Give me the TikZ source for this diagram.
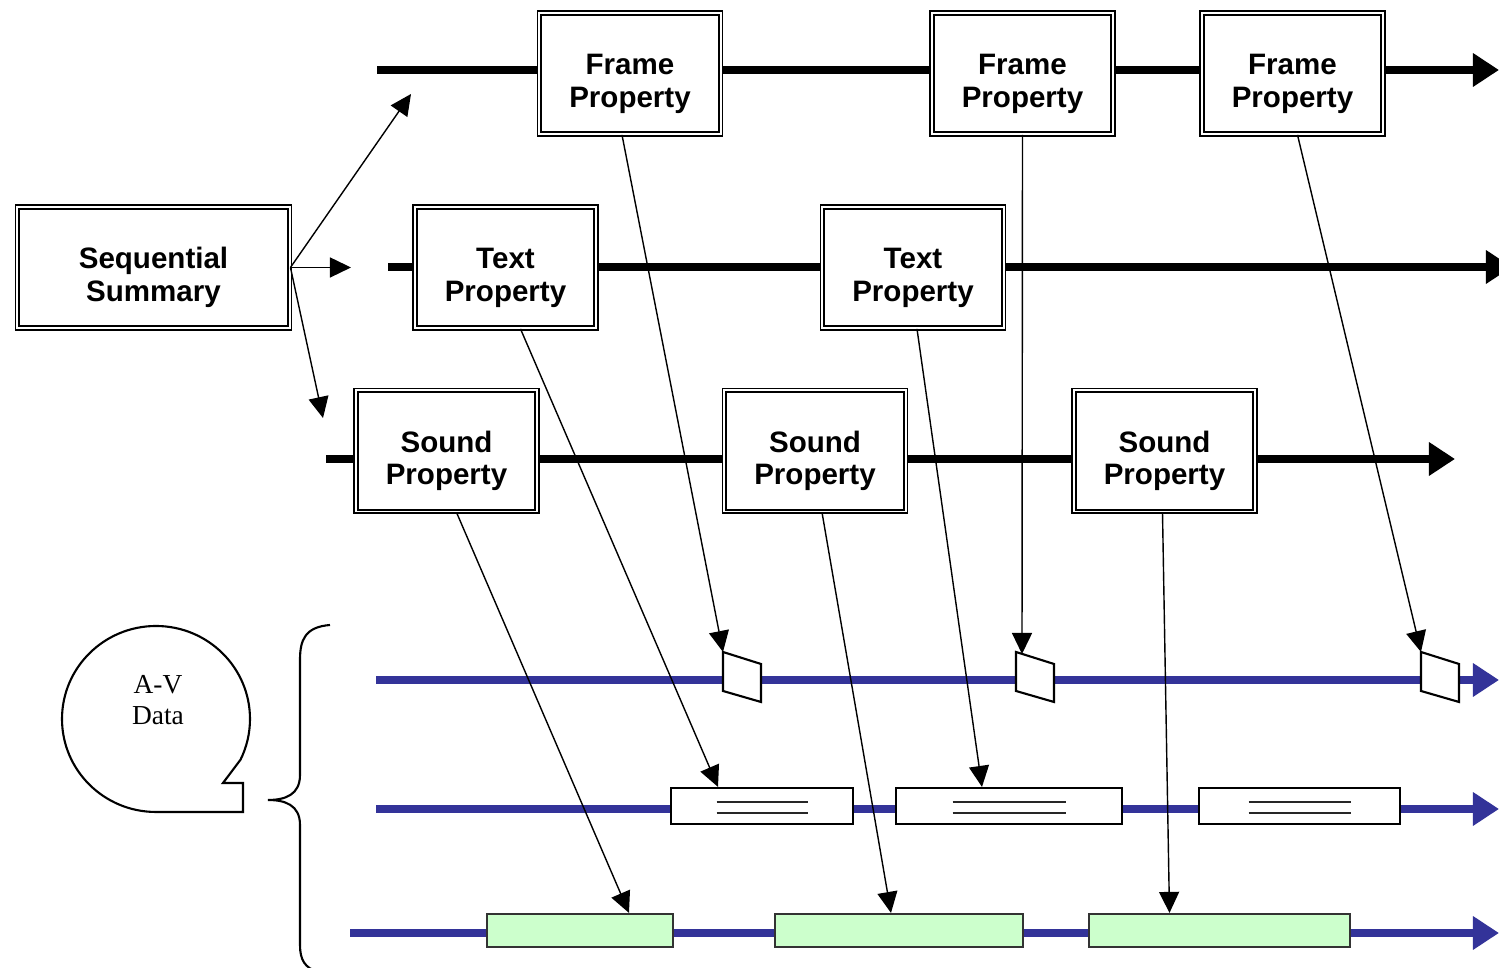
\documentclass[tikz,border=0pt]{standalone}
\usepackage{fontspec}
\setmainfont{Liberation Sans}
\newfontfamily\avfont{Liberation Serif}
\usetikzlibrary{arrows.meta,calc}
\definecolor{avblue}{HTML}{333399}
\definecolor{clipgreen}{HTML}{CCFFCC}
\tikzset{
  propbox/.style={draw, double, double distance=0.55pt, line width=0.5pt, fill=white,
    minimum width=1.81cm, minimum height=1.21cm, inner sep=0pt, align=center,
    font=\bfseries\fontsize{8.4}{9.2}\selectfont, text height=21pt},
  track/.style={line width=2.1pt, -{Triangle[length=0.26cm,width=0.32cm]}},
  avtrack/.style={avblue, line width=2pt, -{Triangle[length=0.26cm,width=0.32cm]}},
  link/.style={line width=0.4pt, -{Triangle[length=0.21cm,width=0.2cm]}},
  textclip/.style={draw, line width=0.6pt, fill=white, minimum height=0.36cm, inner sep=0pt},
  soundclip/.style={draw=black!80, line width=0.6pt, fill=clipgreen, minimum height=0.33cm, inner sep=0pt},
  frameclip/.style={draw, line width=0.6pt, fill=white, line join=miter}
}
\begin{document}
\begin{tikzpicture}[x=0.01cm, y=-0.01cm]
  \useasboundingbox (0,0) rectangle (1499,968);
  % property tracks
  \coordinate (frs) at (377,70);  \coordinate (fre) at (1499,70);
  \coordinate (trs) at (388,267); \coordinate (tre) at (1512,267);
  \coordinate (srs) at (326,459); \coordinate (sre) at (1455,459);
  \draw[track] (frs) -- (fre);
  \draw[track] (trs) -- (tre);
  \draw[track] (srs) -- (sre);
  % A-V data tracks
  \coordinate (fas) at (376,680); \coordinate (fae) at (1499,680);
  \coordinate (tas) at (376,809); \coordinate (tae) at (1499,809);
  \coordinate (sas) at (350,933); \coordinate (sae) at (1499,933);
  \draw[avtrack] (fas) -- (fae);
  \draw[avtrack] (tas) -- (tae);
  \draw[avtrack] (sas) -- (sae);

  % summary and properties
  \node[propbox, minimum width=2.72cm] (ss) at (153.5,267.5) {Sequential\\Summary};
  \node[propbox] (f1) at (630,73.5) {Frame\\Property};
  \node[propbox] (f2) at (1022.5,73.5) {Frame\\Property};
  \node[propbox] (f3) at (1292.5,73.5) {Frame\\Property};
  \node[propbox] (t1) at (505.5,267.5) {Text\\Property};
  \node[propbox] (t2) at (913,267.5) {Text\\Property};
  \node[propbox] (s1) at (446.5,451) {Sound\\Property};
  \node[propbox] (s2) at (815,451) {Sound\\Property};
  \node[propbox] (s3) at (1164.5,451) {Sound\\Property};

  % summary arrows
  \coordinate (sup1) at (411,94);
  \coordinate (smid) at (351,267.5);
  \coordinate (sdown) at (323,418);
  \draw[link] (ss.east) -- (sup1);
  \draw[link] (ss.east) -- (smid);
  \draw[link] (ss.east) -- (sdown);

  % frames
  \coordinate (p1) at (723,652);
  \coordinate (p2) at (1016,652);
  \coordinate (p3) at (1421,652);
  \foreach \p in {p1,p2,p3}
    \draw[frameclip] (\p) -- ++(38,12) -- ++(0,38) -- ++(-38,-11) -- cycle;

  % text clips
  \node[textclip, minimum width=1.82cm] (tb1) at (762,806) {};
  \node[textclip, minimum width=2.26cm] (tb2) at (1009,806) {};
  \node[textclip, minimum width=2.01cm] (tb3) at (1299.5,806) {};
  \foreach \b/\w in {tb1/91, tb2/113, tb3/102} {
    \draw[black!85, line width=0.45pt] ($(\b.center)+(-\w/2,-4)$) -- ++(\w,0);
    \draw[black!85, line width=0.45pt] ($(\b.center)+(-\w/2,7)$) -- ++(\w,0);
  }

  % sound clips
  \node[soundclip, minimum width=1.86cm] (g1) at (580,930.5) {};
  \node[soundclip, minimum width=2.48cm] (g2) at (899,930.5) {};
  \node[soundclip, minimum width=2.61cm] (g3) at (1219.5,930.5) {};

  % property links
  \draw[link] ($(f1.south)+(-8,0)$) -- (p1);
  \draw[link] (f2.south) -- ($(p2)+(6,2)$);
  \draw[link] ($(f3.south)+(5,0)$) -- (p3);
  \draw[link] ($(t1.south)+(15,0)$) -- ($(tb1.north)+(-44,0)$);
  \draw[link] ($(t2.south)+(4,0)$) -- ($(tb2.north)+(-27,0)$);
  \draw[link] ($(s1.south)+(10,0)$) -- ($(g1.north)+(49,0)$);
  \draw[link] ($(s2.south)+(7,0)$) -- ($(g2.north)+(-8,0)$);
  \draw[link] ($(s3.south)+(-2,0)$) -- ($(g3.north)+(-50,0)$);

  % A-V data bubble and brace
  \draw[line width=0.6pt] (156,812) arc[start angle=90, end angle=386, x radius=94, y radius=93]
    -- (223,783) -- (243,783) -- (243,812) -- cycle;
  \node[font=\avfont\fontsize{7.8}{8.8}\selectfont, align=center] (av) at (158,700) {A-V\\Data};
  \draw[line width=0.6pt] (330,625) .. controls (305,627) and (300,640) .. (300,660) -- (300,775)
    .. controls (300,795) and (285,800) .. (268,800)
    .. controls (285,800) and (300,805) .. (300,825) -- (300,945)
    .. controls (300,960) and (305,968) .. (318,972);
\end{tikzpicture}
\end{document}
